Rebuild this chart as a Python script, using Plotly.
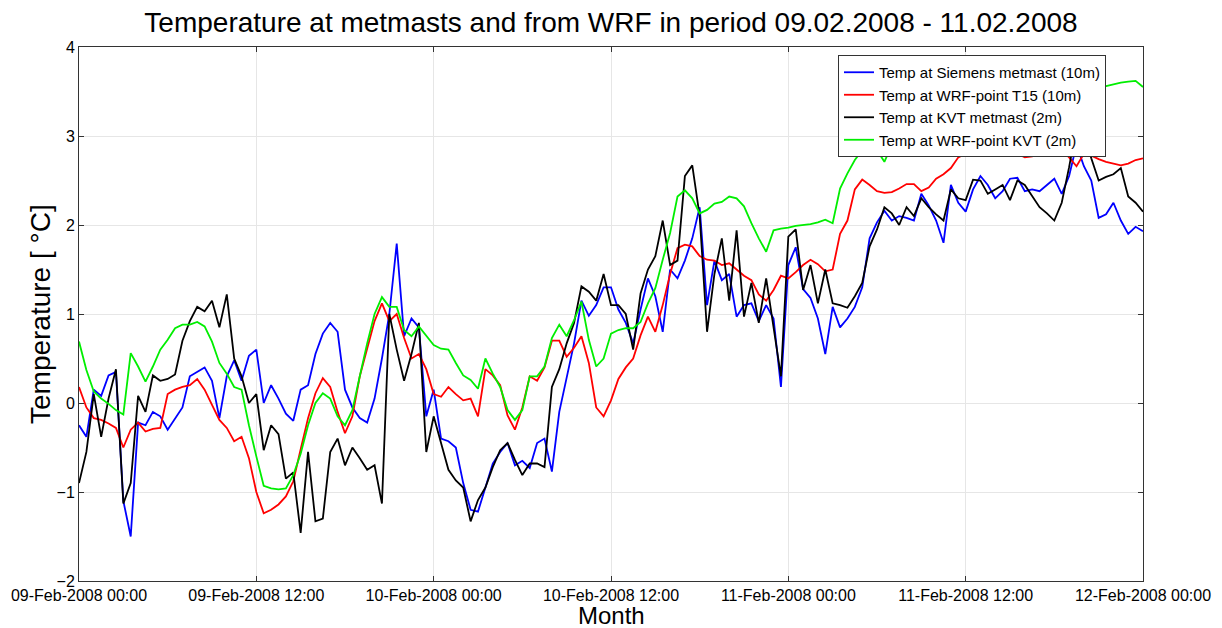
import pandas as pd
import plotly.graph_objects as go

# ---- data: 30-minute samples from 09-Feb-2008 00:00 to 12-Feb-2008 00:00 ----
start_time = "2008-02-09 00:00"
tick_times = ["2008-02-09 00:00", "2008-02-09 12:00", "2008-02-10 00:00",
              "2008-02-10 12:00", "2008-02-11 00:00", "2008-02-11 12:00",
              "2008-02-12 00:00"]
tick_labels = ["09-Feb-2008 00:00", "09-Feb-2008 12:00", "10-Feb-2008 00:00",
               "10-Feb-2008 12:00", "11-Feb-2008 00:00", "11-Feb-2008 12:00",
               "12-Feb-2008 00:00"]

siemens_10m = [
    -0.25, -0.38, 0.15, 0.08, 0.31, 0.35, -1.10, -1.50, -0.22, -0.25, -0.10, -0.15,
    -0.30, -0.17, -0.05, 0.30, 0.35, 0.40, 0.25, -0.17, 0.30, 0.48, 0.25, 0.53,
    0.60, 0.00, 0.20, 0.05, -0.12, -0.20, 0.15, 0.20, 0.55, 0.78, 0.90, 0.80,
    0.15, -0.05, -0.17, -0.22, 0.05, 0.50, 1.00, 1.79, 0.75, 0.95, 0.85, -0.15,
    0.15, -0.40, -0.43, -0.50, -0.90, -1.20, -1.22, -0.95, -0.68, -0.55, -0.45, -0.70,
    -0.65, -0.73, -0.45, -0.40, -0.77, -0.10, 0.30, 0.67, 1.15, 0.98, 1.10, 1.30,
    1.30, 1.05, 0.90, 0.67, 1.05, 1.40, 1.20, 0.80, 1.50, 1.40, 1.60, 1.85,
    2.20, 1.10, 1.60, 1.38, 1.45, 0.97, 1.10, 1.12, 0.92, 1.10, 0.95, 0.18,
    1.55, 1.75, 1.28, 1.18, 0.95, 0.55, 1.08, 0.85, 0.95, 1.08, 1.30, 1.85,
    2.03, 2.16, 2.05, 2.10, 2.08, 2.05, 2.35, 2.22, 2.05, 1.80, 2.45, 2.25,
    2.15, 2.40, 2.55, 2.45, 2.30, 2.38, 2.52, 2.53, 2.38, 2.40, 2.38, 2.45,
    2.52, 2.35, 2.55, 2.90, 2.66, 2.50, 2.08, 2.12, 2.25, 2.05, 1.90, 1.98,
    1.93,
]

wrf_t15_10m = [
    0.18, -0.05, -0.17, -0.19, -0.23, -0.28, -0.50, -0.30, -0.22, -0.32, -0.29, -0.28,
    0.10, 0.15, 0.18, 0.20, 0.27, 0.15, -0.02, -0.19, -0.28, -0.43, -0.38, -0.62,
    -1.00, -1.24, -1.20, -1.14, -1.05, -0.88, -0.52, -0.17, 0.11, 0.28, 0.18, -0.10,
    -0.34, -0.15, 0.30, 0.60, 0.92, 1.12, 0.92, 1.00, 0.73, 0.50, 0.55, 0.38,
    0.10, 0.07, 0.18, 0.10, 0.03, 0.05, -0.15, 0.38, 0.31, 0.20, -0.14, -0.30,
    -0.05, 0.30, 0.25, 0.40, 0.70, 0.70, 0.52, 0.62, 0.75, 0.45, -0.05, -0.15,
    0.03, 0.27, 0.40, 0.50, 0.76, 0.97, 0.80, 1.10, 1.45, 1.74, 1.78, 1.76,
    1.65, 1.61, 1.60, 1.55, 1.57, 1.50, 1.43, 1.38, 1.22, 1.15, 1.27, 1.43,
    1.40, 1.47, 1.55, 1.61, 1.56, 1.48, 1.50, 1.90, 2.05, 2.40, 2.51, 2.45,
    2.38, 2.36, 2.37, 2.41, 2.46, 2.46, 2.38, 2.42, 2.52, 2.57, 2.64, 2.76,
    2.80, 2.80, 2.80, 2.82, 2.84, 2.85, 2.85, 2.80, 2.76, 2.77, 2.80, 2.84,
    2.88, 2.84, 2.76, 2.66, 2.80, 2.78, 2.74, 2.71, 2.69, 2.67, 2.69, 2.73,
    2.75,
]

kvt_2m = [
    -0.90, -0.55, 0.10, -0.38, 0.05, 0.38, -1.13, -0.90, 0.08, -0.10, 0.31, 0.25,
    0.27, 0.32, 0.70, 0.92, 1.08, 1.03, 1.15, 0.85, 1.22, 0.50, 0.30, 0.00,
    0.10, -0.53, -0.25, -0.35, -0.85, -0.78, -1.46, -0.55, -1.33, -1.30, -0.55, -0.40,
    -0.70, -0.50, -0.62, -0.75, -0.70, -1.13, 1.00, 0.60, 0.25, 0.55, 0.90, -0.55,
    -0.15, -0.45, -0.75, -0.87, -0.95, -1.33, -1.09, -0.95, -0.72, -0.53, -0.45, -0.64,
    -0.81, -0.68, -0.68, -0.72, 0.18, 0.38, 0.67, 0.90, 1.31, 1.25, 1.15, 1.45,
    1.10, 1.10, 1.00, 0.60, 1.23, 1.50, 1.65, 2.05, 1.55, 1.60, 2.55, 2.67,
    2.10, 0.80, 1.45, 1.85, 1.15, 1.94, 0.97, 1.35, 0.90, 1.40, 0.85, 0.30,
    1.87, 1.95, 1.27, 1.55, 1.12, 1.50, 1.12, 1.10, 1.07, 1.20, 1.35, 1.76,
    1.95, 2.20, 2.13, 2.00, 2.20, 2.10, 2.30, 2.20, 2.12, 2.05, 2.40, 2.30,
    2.28, 2.51, 2.50, 2.35, 2.40, 2.45, 2.28, 2.50, 2.45, 2.33, 2.20, 2.13,
    2.05, 2.25, 2.65, 3.10, 3.05, 2.75, 2.50, 2.54, 2.57, 2.64, 2.32, 2.25,
    2.15,
]

wrf_kvt_2m = [
    0.69, 0.37, 0.13, 0.05, -0.01, -0.08, -0.13, 0.56, 0.41, 0.24, 0.41, 0.60,
    0.71, 0.84, 0.88, 0.88, 0.91, 0.86, 0.69, 0.45, 0.33, 0.18, 0.15, -0.25,
    -0.60, -0.93, -0.96, -0.97, -0.96, -0.81, -0.57, -0.25, 0.00, 0.11, 0.05, -0.15,
    -0.25, -0.08, 0.30, 0.67, 1.00, 1.19, 1.08, 1.08, 0.82, 0.75, 0.86, 0.75,
    0.65, 0.61, 0.60, 0.45, 0.31, 0.26, 0.16, 0.50, 0.33, 0.18, -0.08, -0.19,
    -0.08, 0.30, 0.30, 0.41, 0.73, 0.88, 0.75, 0.93, 1.14, 0.71, 0.41, 0.50,
    0.78, 0.82, 0.84, 0.84, 0.91, 1.12, 1.29, 1.61, 1.91, 2.32, 2.39, 2.30,
    2.13, 2.17, 2.24, 2.26, 2.32, 2.30, 2.21, 2.02, 1.85, 1.70, 1.94, 1.96,
    1.97, 1.99, 2.00, 2.01, 2.03, 2.06, 2.02, 2.41, 2.58, 2.73, 2.84, 2.84,
    2.84, 2.71, 2.90, 2.90, 2.89, 2.89, 2.92, 3.01, 3.09, 3.12, 3.16, 3.18,
    3.21, 3.24, 3.25, 3.28, 3.31, 3.32, 3.34, 3.35, 3.36, 3.38, 3.40, 3.41,
    3.43, 3.45, 3.46, 3.47, 3.49, 3.51, 3.53, 3.56, 3.58, 3.60, 3.61, 3.62,
    3.55,
]

series_names = ["Temp at Siemens metmast (10m)", "Temp at WRF-point T15 (10m)",
                "Temp at KVT metmast (2m)", "Temp at WRF-point KVT (2m)"]
series_colors = ["#0000ff", "#ff0000", "#000000", "#00ee00"]
series_values = [siemens_10m, wrf_t15_10m, kvt_2m, wrf_kvt_2m]

fig = go.Figure()
for name, color, vals in zip(series_names, series_colors, series_values):
    t = pd.date_range(start_time, periods=len(vals), freq="30min")
    fig.add_trace(go.Scatter(x=t, y=vals, mode="lines", name=name,
                             line=dict(color=color, width=1.8)))

base_font = "Arial, Liberation Sans, sans-serif"
axis_common = dict(showline=True, linecolor="#333333", linewidth=1, mirror="ticks",
                   ticks="inside", ticklen=5, tickcolor="#333333",
                   showgrid=True, gridcolor="#e6e6e6", gridwidth=1, zeroline=False,
                   tickfont=dict(family=base_font, size=16, color="#000000"),
                   automargin=False)

W, H = 1214, 620  # page body has an 8px margin
fig.update_layout(
    width=W, height=H,
    margin=dict(l=71, r=79, t=39, b=47),
    paper_bgcolor="white", plot_bgcolor="white",
    font=dict(family=base_font, color="#000000"),
    title=dict(text="Temperature at metmasts and from WRF in period 09.02.2008 - 11.02.2008",
               x=0.5, xanchor="center", y=1 - 14 / H, yanchor="middle",
               yref="container", xref="paper",
               font=dict(family=base_font, size=28, color="#000000")),
    xaxis=dict(axis_common, type="date",
               range=[tick_times[0], tick_times[-1]],
               tickmode="array", tickvals=tick_times, ticktext=tick_labels),
    yaxis=dict(axis_common, range=[-2, 4], dtick=1, tick0=-2),
    legend=dict(x=(838 - 79) / 1064, xanchor="left", y=0.985, yanchor="top",
                bgcolor="white", bordercolor="#333333", borderwidth=1,
                font=dict(family=base_font, size=15, color="#000000"),
                tracegroupgap=0, itemwidth=30),
    showlegend=True,
    annotations=[
        dict(text="Month", x=0.5, xref="paper", y=-34 / 534, yref="paper",
             xanchor="center", yanchor="middle", showarrow=False,
             font=dict(family=base_font, size=24, color="#000000")),
        dict(text="Temperature [ °C]", x=-39 / 1064, xref="paper", y=0.5, yref="paper",
             xanchor="center", yanchor="middle", showarrow=False, textangle=-90,
             font=dict(family=base_font, size=28, color="#000000")),
    ],
)

fig.write_html("out.html")
